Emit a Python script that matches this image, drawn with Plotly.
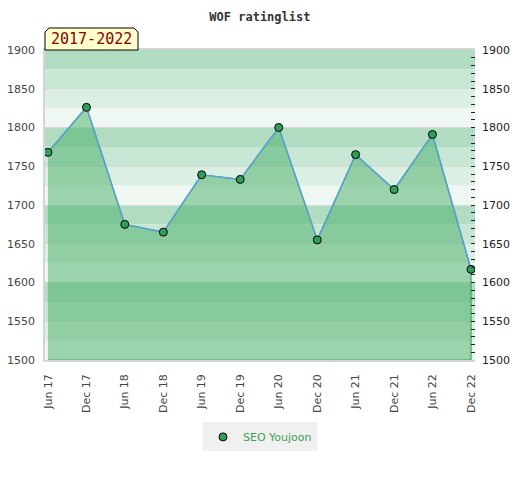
import plotly.graph_objects as go

# WOF rating list, half-yearly ratings for one player
PLAYER = "SEO Youjoon"
PERIOD_LABEL = "2017-2022"
DATES = [
    "2017-06-01", "2017-12-01", "2018-06-01", "2018-12-01",
    "2019-06-01", "2019-12-01", "2020-06-01", "2020-12-01",
    "2021-06-01", "2021-12-01", "2022-06-01", "2022-12-01",
]
RATINGS = [1768, 1826, 1675, 1665, 1739, 1733, 1800, 1655, 1765, 1720, 1791, 1617]

Y_MIN, Y_MAX = 1500, 1900
BAND_STEP = 25
# darkest -> lightest going down within each 100-point block
BAND_COLORS = ["#b2dcc2", "#c7e6d3", "#dcefe3", "#eef7f2"]

FILL_COLOR = "rgba(64,172,99,0.48)"
EDGE_COLOR = "#3aa85c"
LINE_COLOR = "#5b9fd6"
MARKER_COLOR = "#2e9e5b"
TEXT_COLOR = "#444444"
FONT = "DejaVu Sans"
MONO = "DejaVu Sans Mono"

# the page body keeps its default 8px margin, so the figure is a bit
# smaller than the window and shifted up/left to compensate
FIG_W, FIG_H = 512, 472


def band_shapes():
    shapes = []
    n = (Y_MAX - Y_MIN) // BAND_STEP
    for i in range(n):
        top = Y_MAX - i * BAND_STEP
        shapes.append(dict(
            type="rect", xref="paper", yref="y", x0=0, x1=1,
            y0=top - BAND_STEP, y1=top, layer="below", line_width=0,
            fillcolor=BAND_COLORS[i % len(BAND_COLORS)],
        ))
    return shapes


def label_tab():
    # little tab with cut top corners sitting on the top-left of the plot
    path = "M 0 1 L 0 1.058 L 0.0093 1.071 L 0.207 1.071 L 0.2163 1.058 L 0.2163 1 Z"
    return dict(type="path", xref="paper", yref="paper", path=path,
                fillcolor="#ffffcc", line=dict(color="black", width=1), layer="above")


fig = go.Figure()

# filled area (closed down to the axis bottom, with green vertical edges)
fig.add_trace(go.Scatter(
    x=DATES + [DATES[-1], DATES[0]],
    y=RATINGS + [Y_MIN, Y_MIN],
    fill="toself", fillcolor=FILL_COLOR,
    mode="lines", line=dict(color=EDGE_COLOR, width=1.2),
    hoverinfo="skip", showlegend=False,
))

fig.add_trace(go.Scatter(
    x=DATES, y=RATINGS, mode="lines",
    line=dict(color=LINE_COLOR, width=1.5),
    hoverinfo="skip", showlegend=False,
))

fig.add_trace(go.Scatter(
    x=DATES, y=RATINGS, name=PLAYER, mode="markers",
    marker=dict(size=8, color=MARKER_COLOR, line=dict(color="black", width=1)),
))

# invisible trace so the right-hand axis is drawn
fig.add_trace(go.Scatter(
    x=[DATES[0]], y=[RATINGS[0]], yaxis="y2", mode="markers",
    marker=dict(opacity=0), hoverinfo="skip", showlegend=False,
))

fig.update_layout(
    width=FIG_W, height=FIG_H,
    margin=dict(l=37, r=45, t=42, b=120, autoexpand=False),
    paper_bgcolor="white", plot_bgcolor="white",
    font=dict(family=FONT, size=11, color=TEXT_COLOR),
    title=dict(text="<b>WOF ratinglist</b>", x=0.492, xanchor="center", y=0.99, yanchor="top",
               font=dict(family=MONO, size=12, color="#333333")),
    xaxis=dict(
        type="date", range=["2017-05-18", "2022-12-20"], automargin=False,
        tick0="2017-06-01", dtick="M6", tickformat="%b %y", tickangle=-90,
        showgrid=False, zeroline=False, ticks="outside", ticklen=8, tickcolor="rgba(0,0,0,0)",
        showline=True, linecolor="#d4d4d4", linewidth=1.5, mirror=True,
    ),
    yaxis=dict(
        range=[Y_MIN, Y_MAX], dtick=50, showgrid=True, gridcolor="#d9d9d9", gridwidth=1,
        zeroline=False, ticks="outside", ticklen=6, tickcolor="rgba(0,0,0,0)", automargin=False,
        showline=True, linecolor="#d4d4d4", linewidth=1.5,
    ),
    yaxis2=dict(
        range=[Y_MIN, Y_MAX], dtick=50, overlaying="y", side="right", showgrid=False,
        zeroline=False, ticks="inside", ticklen=4, tickcolor="#222222", automargin=False,
        minor=dict(dtick=10, ticks="inside", ticklen=4, tickcolor="#222222"),
        ticklabelstandoff=6, tickfont=dict(color="#222222"),
    ),
    legend=dict(orientation="h", x=0.5, xanchor="center", y=-0.248, yanchor="middle",
                bgcolor="#f0f0f0", font=dict(size=11, color="#3aa15a")),
    shapes=band_shapes() + [label_tab()],
    annotations=[dict(
        text=PERIOD_LABEL, xref="paper", yref="paper", x=0.108, y=1.034,
        xanchor="center", yanchor="middle", showarrow=False,
        font=dict(family=MONO, size=15, color="#8b0000"),
    )],
)

fig.write_html("out.html")
